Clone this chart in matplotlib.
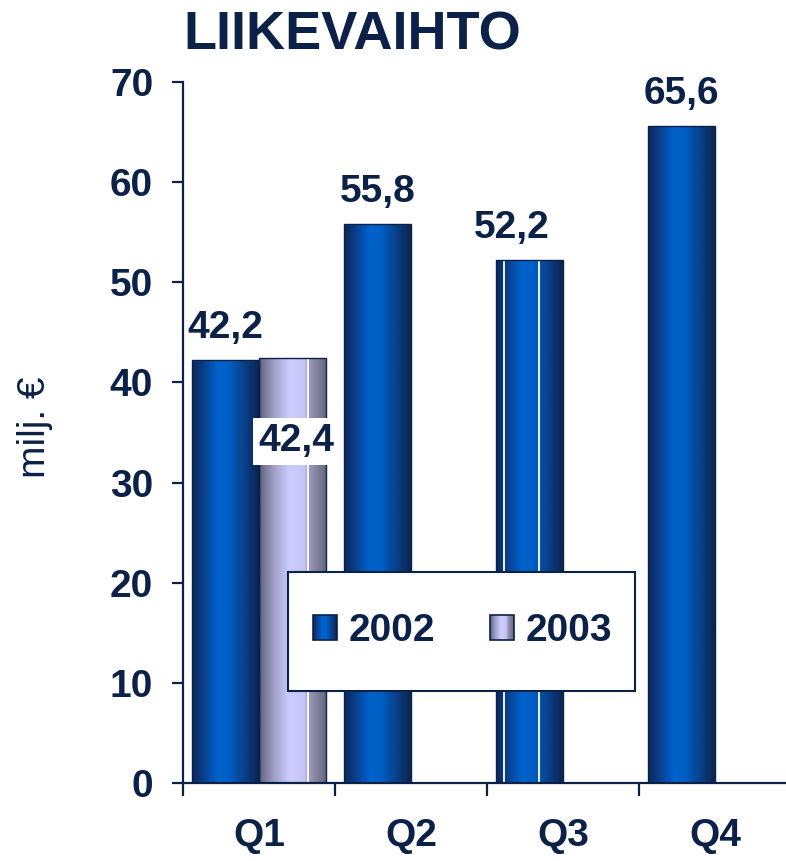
import numpy as np
import matplotlib
matplotlib.use("Agg")
import matplotlib.pyplot as plt
from matplotlib.colors import LinearSegmentedColormap
from matplotlib.patches import Rectangle
from matplotlib.legend_handler import HandlerBase

# ---- data ----
quarters = ["Q1", "Q2", "Q3", "Q4"]
series_names = ["2002", "2003"]
values_2002 = [42.2, 55.8, 52.2, 65.6]
values_2003 = [42.4, np.nan, np.nan, np.nan]
labels_2002 = ["42,2", "55,8", "52,2", "65,6"]
labels_2003 = ["42,4", "", "", ""]
title = "LIIKEVAIHTO"
ylabel = "milj. €"

# ---- style ----
NAVY = "#0b2148"
plt.rcParams["font.family"] = ["Liberation Sans", "DejaVu Sans"]
FS = 28

cmap_2002 = LinearSegmentedColormap.from_list(
    "c2002",
    [(0.0, "#0a2656"), (0.15, "#0a3c86"), (0.38, "#0062cc"), (0.55, "#0060c6"),
     (0.8, "#0a3d84"), (1.0, "#0a2452")])
cmap_2003 = LinearSegmentedColormap.from_list(
    "c2003",
    [(0.0, "#5e5e7c"), (0.2, "#9a9ac0"), (0.45, "#ccccff"), (0.68, "#c4c4f4"),
     (0.75, "#9898b8"), (1.0, "#66667f")])
white_lines_2002 = [[], [], [0.12, 0.64], []]
white_lines_2003 = [[0.74], [], [], []]
label_dx_2002 = [0, 0, -18, 0]   # pixel offsets of value labels

fig = plt.figure(figsize=(7.86, 8.61), dpi=100)
W, H = 786, 861
ax = fig.add_axes([183 / W, 1 - 783 / H, (791 - 183) / W, (783 - 82) / H])

x = np.arange(len(quarters))
bw = 0.44
bars_a = ax.bar(x - bw / 2, values_2002, bw, facecolor="none", edgecolor=NAVY,
                linewidth=1.0, zorder=3)
bars_b = ax.bar(x + bw / 2, values_2003, bw, facecolor="none", edgecolor=NAVY,
                linewidth=1.0, zorder=3)

grad = np.linspace(0, 1, 256).reshape(1, -1)
for bars, cmap, wl in ((bars_a, cmap_2002, white_lines_2002),
                       (bars_b, cmap_2003, white_lines_2003)):
    for p, lines in zip(bars, wl):
        h = p.get_height()
        if not np.isfinite(h) or h == 0:
            continue
        x0, w = p.get_x(), p.get_width()
        im = ax.imshow(grad, cmap=cmap, extent=[x0, x0 + w, 0, h],
                       aspect="auto", interpolation="bilinear", zorder=2)
        im.set_clip_path(p)
        for r in lines:
            ax.plot([x0 + r * w] * 2, [0, h], color="white", lw=1.3, zorder=2.5)

# value labels
for p, lab, dx in zip(bars_a, labels_2002, label_dx_2002):
    ax.annotate(lab, (p.get_x() + p.get_width() / 2, p.get_height()),
                xytext=(dx, 22), textcoords="offset pixels", ha="center",
                va="baseline", fontsize=FS, fontweight="bold", color=NAVY, zorder=6)
for p, lab in zip(bars_b, labels_2003):
    if not lab:
        continue
    ax.annotate(lab, (p.get_x() + p.get_width() / 2, p.get_height()),
                xytext=(4, -93), textcoords="offset pixels", ha="center",
                va="baseline", fontsize=FS, fontweight="bold", color=NAVY, zorder=6,
                bbox=dict(boxstyle="square,pad=0.15", fc="white", ec="none"))

# axes
ax.set_xlim(-0.5, 3.5)
ax.set_ylim(0, 70)
ax.set_yticks(np.arange(0, 71, 10))
ax.set_xticks(np.arange(-0.5, 3.6, 1.0))
ax.set_xticklabels([])
ax.set_xticks(x, minor=True)
ax.set_xticklabels(quarters, minor=True)
for s in ("top", "right"):
    ax.spines[s].set_visible(False)
for s in ("left", "bottom"):
    ax.spines[s].set_color(NAVY)
    ax.spines[s].set_linewidth(1.6)
ax.tick_params(axis="y", which="major", length=8, width=1.6, color=NAVY,
               direction="out", pad=13.5, labelsize=FS, labelcolor=NAVY)
ax.tick_params(axis="x", which="major", length=9, width=1.6, color=NAVY,
               direction="out")
ax.tick_params(axis="x", which="minor", length=0, pad=25.5, labelsize=FS,
               labelcolor=NAVY)
for t in ax.get_yticklabels() + ax.get_xticklabels(minor=True):
    t.set_fontweight("bold")

ax.set_ylabel(ylabel, fontsize=FS, color=NAVY)
ax.yaxis.label.set_va("center")
ax.yaxis.set_label_coords((35 - 183) / 608, (783 - 427) / 701)

fig.text(183 / W, 1 - 50 / H, title, fontsize=39, fontweight="bold",
         color=NAVY, ha="left", va="baseline")


# legend with gradient handles
class GradHandler(HandlerBase):
    def __init__(self, cmap):
        super().__init__()
        self.cmap = cmap

    def create_artists(self, legend, orig_handle, xdescent, ydescent, width,
                       height, fontsize, trans):
        n = 24
        arts = []
        for i in range(n):
            arts.append(Rectangle((-xdescent + width * i / n, -ydescent),
                                  width / n * 1.05, height,
                                  facecolor=self.cmap((i + 0.5) / n),
                                  edgecolor="none", transform=trans))
        arts.append(Rectangle((-xdescent, -ydescent), width, height,
                              facecolor="none", edgecolor=NAVY, lw=1.2,
                              transform=trans))
        return arts


h1 = Rectangle((0, 0), 1, 1)
h2 = Rectangle((0, 0), 1, 1)
leg_box = Rectangle((288 / W, 1 - 691 / H), (635 - 288) / W, (691 - 572) / H,
                    transform=fig.transFigure, facecolor="white", edgecolor=NAVY,
                    lw=1.5, zorder=5)
fig.patches.append(leg_box)
leg = fig.legend([h1, h2], series_names, loc="center",
                 bbox_to_anchor=((290 + 635) / 2 / W, 1 - 631 / H),
                 ncol=2, frameon=False, fontsize=FS,
                 handlelength=0.62, handleheight=0.62, handletextpad=0.31,
                 columnspacing=1.39,
                 handler_map={h1: GradHandler(cmap_2002), h2: GradHandler(cmap_2003)},
                 prop={"weight": "bold", "size": FS})
leg.set_zorder(6)
for t in leg.get_texts():
    t.set_color(NAVY)

fig.savefig("out.png", dpi=100)
